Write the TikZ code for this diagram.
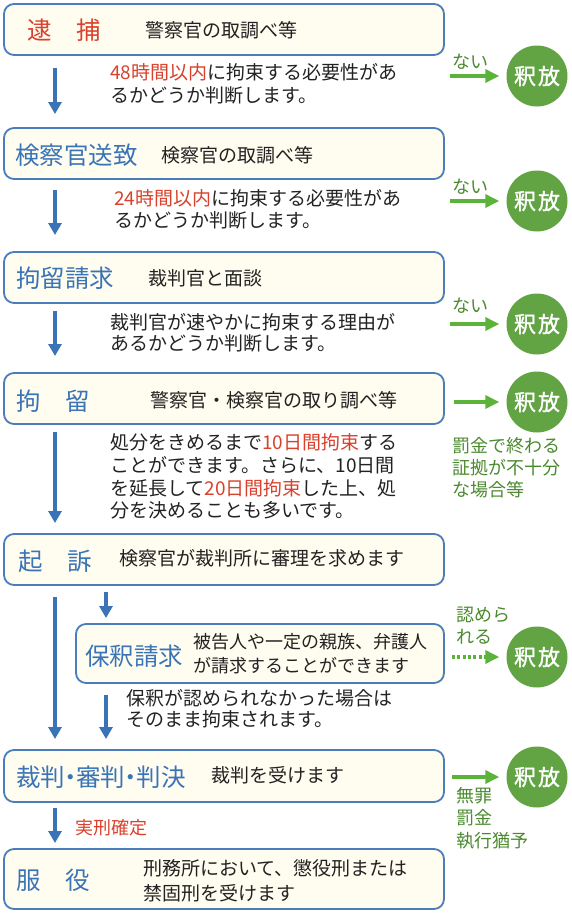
\documentclass[tikz,border=0pt]{standalone}
\usepackage{fontspec}
\setmainfont{Noto Sans CJK JP}
\newfontfamily\cjkbold[FakeBold=1.4]{Noto Sans CJK JP}
\usetikzlibrary{arrows.meta}
\definecolor{boxblue}{HTML}{4A7DBA}
\definecolor{cream}{HTML}{FFFCF0}
\definecolor{titleblue}{HTML}{3A74B7}
\definecolor{arrowblue}{HTML}{3A73B6}
\definecolor{redtxt}{HTML}{D9412C}
\definecolor{circgreen}{HTML}{62A443}
\definecolor{arrgreen}{HTML}{5BB33A}
\definecolor{gtxt}{HTML}{4B8A2F}
\definecolor{ink}{HTML}{222222}
\newcommand{\hlred}[1]{\textcolor{redtxt}{#1}}
\newcommand{\ndot}{\kern-0.27em・\kern-0.27em}
\begin{document}
\begin{tikzpicture}[x=1pt,y=-1pt,
 stagebox/.style={draw=boxblue, fill=cream, line width=1.8pt, rounded corners=10pt, rectangle, anchor=north west, inner sep=0pt, outer sep=0pt, minimum width=440pt},
 title/.style={inner sep=0pt, anchor=west, text=titleblue, font=\fontsize{24.5pt}{28pt}\selectfont, text height=21.6pt, text depth=2.9pt},
 sub/.style={inner sep=0pt, anchor=west, text=ink, font=\fontsize{19pt}{24pt}\selectfont, text height=16.7pt, text depth=2.3pt},
 subsmall/.style={sub, font=\fontsize{18pt}{22pt}\selectfont, text height=15.8pt, text depth=2.2pt},
 glabel/.style={inner sep=0pt, anchor=west, text=gtxt, font=\fontsize{18pt}{22pt}\selectfont, text height=15.8pt, text depth=2.2pt},
 redlabel/.style={glabel, text=redtxt},
 release/.style={circle, fill=circgreen, minimum size=61pt, inner sep=0pt, text=white, font=\cjkbold\fontsize{22pt}{24pt}\selectfont},
 barrow/.style={draw=arrowblue, line width=3.6pt, -{Triangle[width=13pt,length=12pt]}},
 garrow/.style={draw=arrgreen, line width=3.4pt, -{Triangle[width=13pt,length=14pt]}},
 gdotted/.style={garrow, dash pattern=on 3pt off 2.3pt},
 ]
\useasboundingbox (0,0) rectangle (572,916);
\fill[white] (0,0) rectangle (572,916);

% stage boxes
\node[stagebox, minimum height=51pt] (b1) at (4,4) {};
\node[stagebox, minimum height=51pt] (b2) at (4,128) {};
\node[stagebox, minimum height=51pt] (b3) at (4,252) {};
\node[stagebox, minimum height=51pt] (b4) at (4,373) {};
\node[stagebox, minimum height=51pt] (b5) at (4,534) {};
\node[stagebox, minimum height=59pt, minimum width=368pt] (b6) at (76,624) {};
\node[stagebox, minimum height=52pt] (b7) at (4,750) {};
\node[stagebox, minimum height=60pt] (b8) at (4,849) {};

% titles
\node[title, text=redtxt] (t1) at (27,30) {逮　捕};
\node[title] (t2) at (15,155) {検察官送致};
\node[title] (t3) at (16,278) {拘留請求};
\node[title] (t4) at (16,401) {拘　留};
\node[title] (t5) at (18,561) {起　訴};
\node[title] (t6) at (85,656) {保釈請求};
\node[title] (t7) at (16,777) {裁判\ndot 審判\ndot 判決};
\node[title] (t8) at (16,880) {服　役};

% box texts
\node[sub] (s1) at (145,30) {警察官の取調べ等};
\node[sub] (s2) at (161,155) {検察官の取調べ等};
\node[sub] (s3) at (148,278) {裁判官と面談};
\node[sub] (s4) at (150,400) {警察官・検察官の取り調べ等};
\node[sub] (s5) at (119,558) {検察官が裁判所に審理を求めます};
\node[subsmall] (s6a) at (193,642) {被告人や一定の親族、弁護人};
\node[subsmall] (s6b) at (193,666) {が請求することができます};
\node[sub] (s7) at (211,775) {裁判を受けます};
\node[sub] (s8a) at (143,868) {刑務所において、懲役刑または};
\node[sub] (s8b) at (143,893) {禁固刑を受けます};

% explanations
\node[sub] (m1a) at (110,72) {\hlred{48時間以内}に拘束する必要性があ};
\node[sub] (m1b) at (110,95) {るかどうか判断します。};
\node[sub] (m2a) at (114,198) {\hlred{24時間以内}に拘束する必要性があ};
\node[sub] (m2b) at (114,220) {るかどうか判断します。};
\node[sub] (m3a) at (110,322) {裁判官が速やかに拘束する理由が};
\node[sub] (m3b) at (110,343) {あるかどうか判断します。};
\node[sub] (m4a) at (110,442) {処分をきめるまで\hlred{10日間拘束}する};
\node[sub] (m4b) at (110,465) {ことができます。さらに、10日間};
\node[sub] (m4c) at (110,488) {を延長して\hlred{20日間拘束}した上、処};
\node[sub] (m4d) at (110,510) {分を決めることも多いです。};
\node[sub] (m6a) at (126,698) {保釈が認められなかった場合は};
\node[sub] (m6b) at (126,719) {そのまま拘束されます。};
\node[redlabel] (k7) at (75,828) {実刑確定};

% release circles
\node[release] (c1) at (537,76) {釈\kern2pt 放};
\node[release] (c2) at (537,201) {釈\kern2pt 放};
\node[release] (c3) at (537,324) {釈\kern2pt 放};
\node[release] (c4) at (537,402) {釈\kern2pt 放};
\node[release] (c6) at (537,657) {釈\kern2pt 放};
\node[release] (c7) at (537,777) {釈\kern2pt 放};

% green labels
\node[glabel] (n1) at (452,62) {ない};
\node[glabel] (n2) at (452,187) {ない};
\node[glabel] (n3) at (452,306) {ない};
\node[glabel] (g4a) at (452,446) {罰金で終わる};
\node[glabel] (g4b) at (452,468) {証拠が不十分};
\node[glabel] (g4c) at (452,490) {な場合等};
\node[glabel] (r6a) at (456,615) {認めら};
\node[glabel] (r6b) at (456,637) {れる};
\node[glabel] (g7a) at (456,796) {無罪};
\node[glabel] (g7b) at (456,818) {罰金};
\node[glabel] (g7c) at (456,841) {執行猶予};

% blue flow arrows
\coordinate (ax) at (55,0);
\coordinate (bx) at (106,0);
\draw[barrow, shorten <=13pt, shorten >=14pt] (b1.south -| ax) -- (b2.north -| ax);
\draw[barrow, shorten <=11pt, shorten >=17pt] (b2.south -| ax) -- (b3.north -| ax);
\draw[barrow, shorten <=8pt, shorten >=17pt] (b3.south -| ax) -- (b4.north -| ax);
\draw[barrow, shorten <=8pt, shorten >=11pt] (b4.south -| ax) -- (b5.north -| ax);
\draw[barrow, shorten <=12pt, shorten >=11pt] (b5.south -| ax) -- (b7.north -| ax);
\draw[barrow, shorten <=7pt, shorten >=6pt] (b5.south -| bx) -- (b6.north -| bx);
\draw[barrow, shorten <=12pt, shorten >=11pt] (b6.south -| bx) -- (b7.north -| bx);
\draw[barrow, shorten <=6pt, shorten >=6pt] (b7.south -| ax) -- (b8.north -| ax);

% green release arrows
\draw[garrow, shorten <=6pt, shorten >=7pt] (c1.west -| b1.east) -- (c1.west);
\draw[garrow, shorten <=6pt, shorten >=7pt] (c2.west -| b2.east) -- (c2.west);
\draw[garrow, shorten <=6pt, shorten >=7pt] (c3.west -| b3.east) -- (c3.west);
\draw[garrow, shorten <=10pt, shorten >=7pt] (c4.west -| b4.east) -- (c4.west);
\draw[gdotted, shorten <=8pt, shorten >=7pt] (c6.west -| b6.east) -- (c6.west);
\draw[garrow, shorten <=8pt, shorten >=7pt] (c7.west -| b7.east) -- (c7.west);
\end{tikzpicture}
\end{document}
